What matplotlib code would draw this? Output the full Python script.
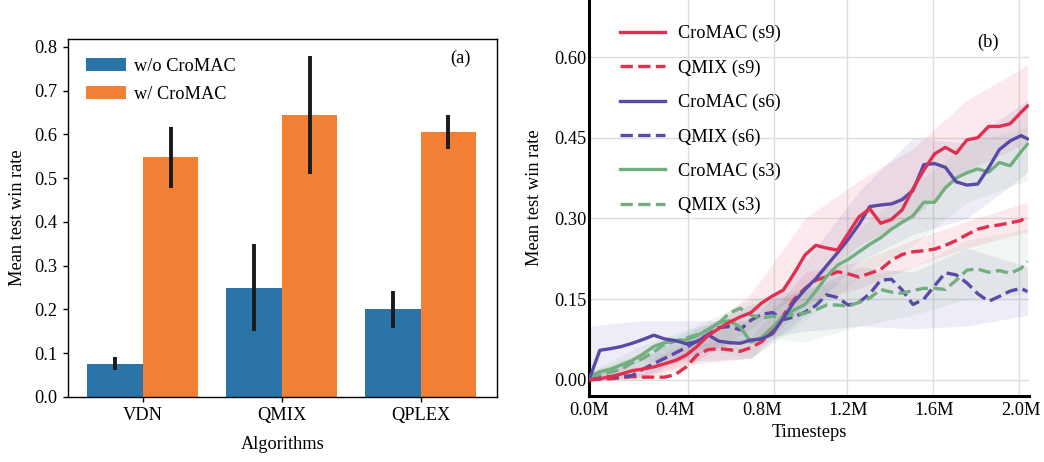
import matplotlib
matplotlib.use("Agg")
import matplotlib.pyplot as plt
import numpy as np

plt.rcParams["font.family"] = ["Liberation Serif", "DejaVu Serif"]
plt.rcParams["font.size"] = 13.2

# ── Panel (a) data ────────────────────────────────────────────────────────────
ALGOS = ["VDN", "QMIX", "QPLEX"]
wo_mean = [0.075, 0.250, 0.200]
wo_lo   = [0.062, 0.150, 0.158]
wo_hi   = [0.092, 0.350, 0.243]
w_mean  = [0.548, 0.645, 0.605]
w_lo    = [0.478, 0.510, 0.566]
w_hi    = [0.617, 0.780, 0.645]

BLUE = "#2b74a8"
ORANGE = "#f18035"

# ── Panel (b) data (timesteps in millions) ───────────────────────────────────
steps = [0.00, 0.05, 0.10, 0.15, 0.20, 0.25, 0.30, 0.35, 0.40, 0.45, 0.50,
         0.55, 0.60, 0.65, 0.70, 0.75, 0.80, 0.85, 0.90, 0.95, 1.00, 1.05,
         1.10, 1.15, 1.20, 1.25, 1.30, 1.35, 1.40, 1.45, 1.50, 1.55, 1.60,
         1.65, 1.70, 1.75, 1.80, 1.85, 1.90, 1.95, 2.00, 2.03]

cromac_s9 = [0.000, 0.002, 0.006, 0.011, 0.017, 0.020, 0.024, 0.030, 0.036, 0.046,
             0.062, 0.082, 0.095, 0.107, 0.117, 0.125, 0.143, 0.156, 0.167, 0.198,
             0.232, 0.250, 0.245, 0.241, 0.272, 0.303, 0.318, 0.291, 0.298, 0.316,
             0.355, 0.390, 0.420, 0.432, 0.421, 0.446, 0.450, 0.471, 0.471, 0.476,
             0.497, 0.509]
qmix_s9   = [0.000, 0.001, 0.002, 0.004, 0.006, 0.005, 0.005, 0.005, 0.010, 0.024,
             0.046, 0.056, 0.058, 0.056, 0.053, 0.060, 0.071, 0.091, 0.120, 0.150,
             0.170, 0.185, 0.192, 0.201, 0.197, 0.191, 0.198, 0.205, 0.222, 0.233,
             0.238, 0.240, 0.243, 0.250, 0.259, 0.270, 0.280, 0.285, 0.288, 0.292,
             0.296, 0.305]
cromac_s6 = [0.000, 0.055, 0.058, 0.062, 0.068, 0.075, 0.083, 0.076, 0.073, 0.067,
             0.071, 0.084, 0.072, 0.069, 0.068, 0.074, 0.076, 0.086, 0.115, 0.145,
             0.168, 0.188, 0.212, 0.236, 0.261, 0.289, 0.322, 0.325, 0.327, 0.335,
             0.352, 0.400, 0.402, 0.395, 0.368, 0.362, 0.364, 0.394, 0.428, 0.444,
             0.454, 0.448]
qmix_s6   = [0.000, 0.004, 0.006, 0.006, 0.008, 0.020, 0.030, 0.040, 0.050, 0.060,
             0.072, 0.084, 0.097, 0.099, 0.093, 0.111, 0.122, 0.125, 0.112, 0.117,
             0.126, 0.138, 0.158, 0.153, 0.139, 0.144, 0.160, 0.185, 0.187, 0.167,
             0.140, 0.150, 0.175, 0.199, 0.195, 0.180, 0.160, 0.146, 0.155, 0.165,
             0.170, 0.164]
cromac_s3 = [0.006, 0.015, 0.020, 0.028, 0.036, 0.048, 0.062, 0.069, 0.072, 0.074,
             0.082, 0.093, 0.106, 0.110, 0.098, 0.070, 0.079, 0.098, 0.118, 0.130,
             0.140, 0.165, 0.192, 0.213, 0.224, 0.238, 0.252, 0.264, 0.280, 0.293,
             0.305, 0.330, 0.330, 0.357, 0.375, 0.385, 0.392, 0.386, 0.404, 0.398,
             0.424, 0.438]
qmix_s3   = [0.006, 0.010, 0.014, 0.020, 0.032, 0.040, 0.052, 0.066, 0.072, 0.077,
             0.084, 0.093, 0.105, 0.124, 0.133, 0.120, 0.115, 0.118, 0.118, 0.121,
             0.124, 0.130, 0.139, 0.139, 0.137, 0.144, 0.152, 0.168, 0.163, 0.161,
             0.166, 0.170, 0.170, 0.168, 0.185, 0.204, 0.206, 0.200, 0.203, 0.198,
             0.207, 0.220]

# shaded ranges, read on a coarser grid
band_steps = [0.0, 0.25, 0.5, 0.75, 1.0, 1.25, 1.5, 1.75, 2.03]
cromac_s9_lo = [0.000, 0.005, 0.035, 0.095, 0.170, 0.250, 0.300, 0.390, 0.440]
cromac_s9_hi = [0.010, 0.030, 0.080, 0.160, 0.300, 0.370, 0.430, 0.520, 0.585]
qmix_s9_lo   = [0.000, 0.000, 0.030, 0.040, 0.140, 0.170, 0.210, 0.245, 0.275]
qmix_s9_hi   = [0.005, 0.012, 0.065, 0.080, 0.200, 0.220, 0.260, 0.295, 0.330]
cromac_s6_lo = [0.000, 0.035, 0.035, 0.040, 0.120, 0.220, 0.270, 0.300, 0.385]
cromac_s6_hi = [0.100, 0.110, 0.110, 0.110, 0.220, 0.350, 0.450, 0.440, 0.520]
qmix_s6_lo   = [0.000, 0.005, 0.050, 0.075, 0.090, 0.100, 0.095, 0.100, 0.120]
qmix_s6_hi   = [0.005, 0.040, 0.095, 0.140, 0.165, 0.210, 0.200, 0.245, 0.210]
cromac_s3_lo = [0.000, 0.030, 0.060, 0.040, 0.110, 0.190, 0.250, 0.330, 0.370]
cromac_s3_hi = [0.015, 0.065, 0.100, 0.110, 0.170, 0.280, 0.360, 0.440, 0.470]
qmix_s3_lo   = [0.000, 0.020, 0.060, 0.080, 0.070, 0.100, 0.120, 0.150, 0.160]
qmix_s3_hi   = [0.015, 0.050, 0.100, 0.150, 0.170, 0.190, 0.210, 0.260, 0.280]

RED = "#e1304f"
PURPLE = "#5a4aa8"
GREEN = "#72ae7f"

fig = plt.figure(figsize=(10.44, 4.62), dpi=100)

# ── Panel (a) ────────────────────────────────────────────────────────────────
ax1 = fig.add_axes([0.0651, 0.1407, 0.4109, 0.7749])
x = np.arange(len(ALGOS))
w = 0.4
ax1.bar(x - w / 2, wo_mean, w, color=BLUE, label="w/o CroMAC")
ax1.bar(x + w / 2, w_mean, w, color=ORANGE, label="w/ CroMAC")
for xs, m, lo, hi in [(x - w / 2, wo_mean, wo_lo, wo_hi), (x + w / 2, w_mean, w_lo, w_hi)]:
    m = np.array(m)
    err = [m - np.array(lo), np.array(hi) - m]
    ax1.errorbar(xs, m, yerr=err, fmt="none", ecolor="#1a1a1a", elinewidth=2.8, capsize=0)

ax1.set_xlim(-0.54, 2.55)
ax1.set_ylim(0, 0.818)
ax1.set_yticks(np.arange(0, 0.81, 0.1))
ax1.set_xticks(x)
ax1.set_xticklabels(ALGOS)
ax1.set_xlabel("Algorithms", labelpad=8)
ax1.set_ylabel("Mean test win rate", labelpad=6)
for s in ax1.spines.values():
    s.set_linewidth(1.0)
ax1.tick_params(length=3.5, width=1.0, pad=4)
ax1.legend(loc="upper left", bbox_to_anchor=(0.025, 0.968), frameon=False,
           handlelength=2.2, handleheight=0.75, handletextpad=0.4,
           labelspacing=0.6, borderaxespad=0)
ax1.text(0.915, 0.945, "(a)", transform=ax1.transAxes, ha="center", va="center")

# ── Panel (b) ────────────────────────────────────────────────────────────────
ax2 = fig.add_axes([0.5642, 0.1429, 0.4214, 0.8571])
series = [
    ("CroMAC (s9)", cromac_s9, cromac_s9_lo, cromac_s9_hi, RED, "-"),
    ("QMIX (s9)", qmix_s9, qmix_s9_lo, qmix_s9_hi, RED, "--"),
    ("CroMAC (s6)", cromac_s6, cromac_s6_lo, cromac_s6_hi, PURPLE, "-"),
    ("QMIX (s6)", qmix_s6, qmix_s6_lo, qmix_s6_hi, PURPLE, "--"),
    ("CroMAC (s3)", cromac_s3, cromac_s3_lo, cromac_s3_hi, GREEN, "-"),
    ("QMIX (s3)", qmix_s3, qmix_s3_lo, qmix_s3_hi, GREEN, "--"),
]
for label, ys, lo, hi, col, ls in series:
    ax2.fill_between(band_steps, lo, hi, color=col, alpha=0.1, linewidth=0)
zorders = {"CroMAC (s9)": 8, "CroMAC (s6)": 7, "CroMAC (s3)": 6}
for label, ys, lo, hi, col, ls in series:
    ax2.plot(steps, ys, color=col, linestyle=ls, linewidth=2.4, label=label,
             zorder=zorders.get(label, 5))

ax2.set_xlim(0, 2.037)
ax2.set_ylim(-0.03, 0.706)
ax2.set_yticks([0.0, 0.15, 0.30, 0.45, 0.60])
ax2.set_yticklabels(["0.00", "0.15", "0.30", "0.45", "0.60"])
ax2.set_xticks([0.0, 0.4, 0.8, 1.2, 1.6, 2.0])
ax2.set_xticklabels(["0.0M", "0.4M", "0.8M", "1.2M", "1.6M", "2.0M"])
ax2.set_xticks([0.458, 0.856, 1.194, 1.593, 1.99], minor=True)
ax2.grid(False)
ax2.grid(True, axis="x", which="minor", color="#dedede", linewidth=1.0)
ax2.grid(True, axis="y", which="major", color="#dedede", linewidth=1.0)
ax2.set_axisbelow(True)
ax2.tick_params(which="both", length=0, pad=4)
ax2.tick_params(axis="y", pad=2)
for side in ["top", "right"]:
    ax2.spines[side].set_visible(False)
ax2.spines["left"].set_linewidth(2.2)
ax2.spines["bottom"].set_linewidth(2.2)
ax2.set_xlabel("Timesteps", labelpad=4)
ax2.set_ylabel("Mean test win rate", labelpad=8)
ax2.legend(loc="upper left", bbox_to_anchor=(0.054, 0.955), frameon=False,
           handlelength=2.45, handletextpad=0.7, labelspacing=0.93, borderaxespad=0)
ax2.text(0.907, 0.894, "(b)", transform=ax2.transAxes, ha="center", va="center")

fig.savefig("out.png", dpi=100)
